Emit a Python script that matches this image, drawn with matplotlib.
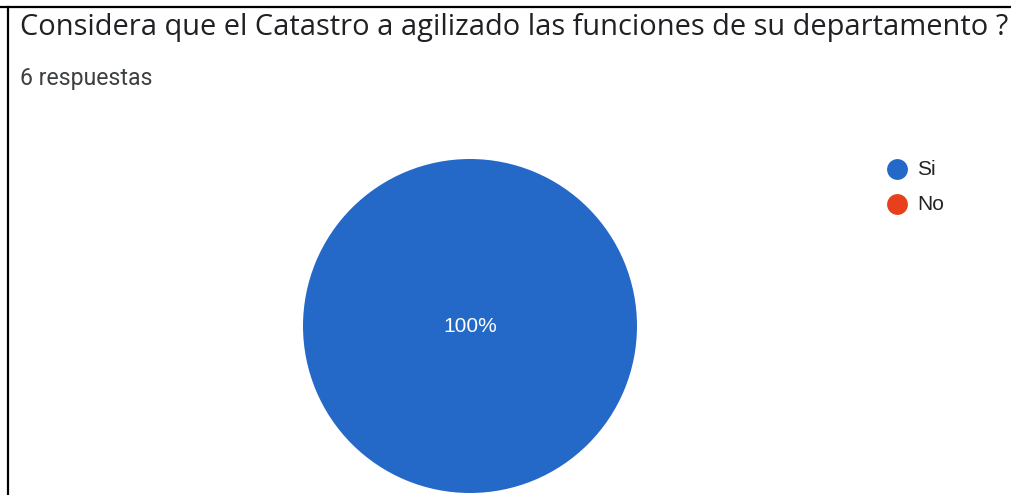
import matplotlib
matplotlib.use("Agg")
import matplotlib.pyplot as plt
from matplotlib.lines import Line2D

title = "Considera que el Catastro a agilizado las funciones de su departamento ?"
subtitle = "6 respuestas"
categories = ["Si", "No"]
values = [6, 0]
colors = ["#2569c8", "#e8401c"]

W, H = 1011, 495
fig = plt.figure(figsize=(W / 100, H / 100), dpi=100)
fig.patch.set_facecolor("white")

def px(x, y):
    return x / W, 1 - y / H

# frame lines (top and left)
fig.add_artist(Line2D([0, 1], [1 - 7 / H, 1 - 7 / H], color="black", lw=1.6, transform=fig.transFigure))
fig.add_artist(Line2D([8 / W, 8 / W], [0, 1 - 7 / H], color="black", lw=1.6, transform=fig.transFigure))

fig.canvas.draw()
renderer = fig.canvas.get_renderer()

# title fitted to width
t = fig.text(*px(20, 27), title, fontsize=20, family="Open Sans", color="#202124",
             ha="left", va="center")
bb = t.get_window_extent(renderer)
t.set_fontsize(20 * 985 / bb.width)

s = fig.text(*px(20, 79), subtitle, fontsize=14, family="Roboto", color="#3c4043",
             ha="left", va="center")
bb = s.get_window_extent(renderer)
s.set_fontsize(14 * 133 / bb.width)

# pie
cx, cy, r = 470, 326, 167
ax = fig.add_axes([(cx - r) / W, (H - cy - r) / H, 2 * r / W, 2 * r / H])
total = sum(values)
wedges, texts, autotexts = ax.pie(
    values, colors=colors, startangle=90, counterclock=False, radius=1,
    autopct=lambda p: f"{p:.0f}%" if p > 0 else "",
    pctdistance=0.0,
    textprops=dict(color="white", fontsize=15, family="Liberation Sans"),
    wedgeprops=dict(linewidth=0),
)
ax.set_xlim(-1, 1)
ax.set_ylim(-1, 1)
ax.set_aspect("equal")
ax.axis("off")

# legend
leg_y = [169, 204]
for cat, col, y in zip(categories, colors, leg_y):
    fig.add_artist(Line2D([897 / W], [1 - y / H], marker="o", markersize=15, color=col,
                          markeredgewidth=0, linestyle="none", transform=fig.transFigure))
    fig.text(*px(917, y + 0.5), cat, fontsize=15, family="Liberation Sans", color="#222222",
             ha="left", va="center")

fig.savefig("out.png", dpi=100)
